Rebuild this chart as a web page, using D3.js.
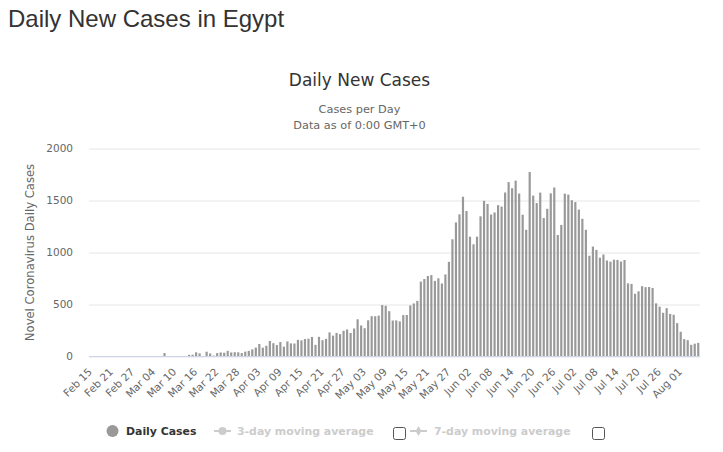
<!DOCTYPE html>
<html>
<head>
<meta charset="utf-8">
<script src="https://cdn.jsdelivr.net/npm/d3@7"></script>
<style>
  html, body { margin: 0; padding: 0; background: #fff; }
  svg { display: block; }
</style>
</head>
<body>
<svg id="chart" width="723" height="452"></svg>
<script>
// ---------- DATA ----------
const startDate = "2020-02-15";
const endDate = "2020-08-06";
const dailyCases = [
  0,0,0,0,0,0,0,0,0,0,0,0,0,0,0,
  1,0,0,0,0,1,33,4,4,0,5,3,3,16,17,40,30,0,46,29,9,33,39,36,54,39,41,40,33,47,54,
  69,86,120,85,103,149,128,110,139,95,145,126,125,160,155,168,171,188,112,189,
  157,169,232,201,227,215,248,260,226,269,358,298,272,348,388,387,393,495,488,436,
  346,347,338,
  398,399,491,510,535,720,745,774,783,727,752,702,789,910,1127,1289,1367,1536,1399,1152,
  1079,1152,1348,1497,1467,1365,1385,1455,1442,1577,1677,1618,1691,1567,1363,1218,1774,
  1547,1475,1576,1332,1420,1569,1625,1168,1265,1566,1557,1503,1485,1412,1324,1218,
  969,1057,1025,950,981,923,912,931,929,913,928,703,698,603,627,676,667,668,659,511,
  479,420,465,409,401,321,238,167,157,112,123,131
];
const yTicks = [0, 500, 1000, 1500, 2000];
const xTickLabels = ["Feb 15","Feb 21","Feb 27","Mar 04","Mar 10","Mar 16","Mar 22","Mar 28",
  "Apr 03","Apr 09","Apr 15","Apr 21","Apr 27","May 03","May 09","May 15","May 21","May 27",
  "Jun 02","Jun 08","Jun 14","Jun 20","Jun 26","Jul 02","Jul 08","Jul 14","Jul 20","Jul 26","Aug 01"];
const legendItems = ["Daily Cases", "3-day moving average", "7-day moving average"];

// ---------- BUILD ----------
const parse = d3.timeParse("%Y-%m-%d");
const fmt = d3.timeFormat("%b %d");
const days = d3.timeDay.range(parse(startDate), d3.timeDay.offset(parse(endDate), 1));
const categories = days.map(fmt);
const data = categories.map((c, i) => ({ cat: c, value: dailyCases[i] }));

const svg = d3.select("#chart");
const plot = { left: 89, right: 700, top: 148.5, bottom: 356.5 };

const x = d3.scaleBand().domain(categories).range([plot.left, plot.right]).paddingInner(0).paddingOuter(0);
const y = d3.scaleLinear().domain([0, 2000]).range([plot.bottom, plot.top]);

const FONT = "'DejaVu Sans', Verdana, sans-serif";

// Page title
svg.append("text")
  .attr("x", 8).attr("y", 27)
  .style("font-family", "'Liberation Sans', Arial, sans-serif")
  .style("font-size", "24px")
  .style("fill", "#333")
  .text("Daily New Cases in Egypt");

// Chart title & subtitle
svg.append("text")
  .attr("x", 359.5).attr("y", 86)
  .attr("text-anchor", "middle")
  .style("font-family", FONT).style("font-size", "17px").style("fill", "#333")
  .text("Daily New Cases");
svg.append("text")
  .attr("x", 359.5).attr("y", 113)
  .attr("text-anchor", "middle")
  .style("font-family", FONT).style("font-size", "11.3px").style("fill", "#666")
  .text("Cases per Day");
svg.append("text")
  .attr("x", 359.5).attr("y", 128.5)
  .attr("text-anchor", "middle")
  .style("font-family", FONT).style("font-size", "11.3px").style("fill", "#666")
  .text("Data as of 0:00 GMT+0");

// Grid lines
const yAxis = d3.axisLeft(y).tickValues(yTicks).tickFormat(d3.format("d"))
  .tickSize(-(plot.right - plot.left)).tickPadding(16);
const gy = svg.append("g").attr("transform", `translate(${plot.left},0)`).call(yAxis);
gy.select(".domain").remove();
gy.selectAll(".tick line").attr("stroke", "#e6e6e6").attr("stroke-width", 1);
gy.selectAll(".tick text")
  .style("font-family", FONT).style("font-size", "10.5px").style("fill", "#666")
  .attr("dy", "0.3em");

// Bars
const barW = x.bandwidth() * 0.62;
svg.append("g").selectAll("rect").data(data).join("rect")
  .attr("x", d => x(d.cat) + (x.bandwidth() - barW) / 2)
  .attr("width", barW)
  .attr("y", d => y(d.value))
  .attr("height", d => Math.max(0, y(0) - 0.5 - y(d.value)))
  .attr("fill", "#999");

// X axis
const xAxis = d3.axisBottom(x).tickValues(categories.filter(c => xTickLabels.includes(c))).tickSize(0).tickPadding(0);
const gx = svg.append("g").attr("transform", `translate(0,${plot.bottom})`).call(xAxis);
gx.select(".domain").attr("stroke", "#ccd6eb").attr("stroke-width", 1)
  .attr("d", `M${plot.left},0H${plot.right}`);
gx.selectAll(".tick text")
  .style("font-family", FONT).style("font-size", "10.5px").style("fill", "#666")
  .attr("text-anchor", "end")
  .attr("dy", null).attr("y", 0)
  .attr("transform", "translate(2,16) rotate(-45)");

// Y axis title
svg.append("text")
  .attr("transform", `translate(34,${(plot.top + plot.bottom) / 2}) rotate(-90)`)
  .attr("text-anchor", "middle")
  .style("font-family", FONT).style("font-size", "11.6px").style("fill", "#666")
  .text("Novel Coronavirus Daily Cases");

// Legend
const lg = svg.append("g");
const ly = 431;
const LFS = "10.9px";
lg.append("circle").attr("cx", 112.5).attr("cy", ly).attr("r", 6).attr("fill", "#999");
lg.append("text").attr("x", 126).attr("y", ly + 4)
  .style("font-family", FONT).style("font-size", LFS).style("font-weight", "bold").style("fill", "#333")
  .text(legendItems[0]);

lg.append("line").attr("x1", 214).attr("x2", 231).attr("y1", ly).attr("y2", ly).attr("stroke", "#ccc").attr("stroke-width", 2);
lg.append("circle").attr("cx", 222.5).attr("cy", ly).attr("r", 4).attr("fill", "#ccc");
lg.append("text").attr("x", 237).attr("y", ly + 4)
  .style("font-family", FONT).style("font-size", LFS).style("font-weight", "bold").style("fill", "#ccc")
  .text(legendItems[1]);
lg.append("rect").attr("x", 393.5).attr("y", 427.5).attr("width", 12).attr("height", 12).attr("rx", 2)
  .attr("fill", "#fff").attr("stroke", "#555");

lg.append("line").attr("x1", 410).attr("x2", 427).attr("y1", ly).attr("y2", ly).attr("stroke", "#ccc").attr("stroke-width", 2);
lg.append("path").attr("d", d3.symbol(d3.symbolDiamond, 30)()).attr("transform", `translate(418.5,${ly})`).attr("fill", "#ccc");
lg.append("text").attr("x", 434).attr("y", ly + 4)
  .style("font-family", FONT).style("font-size", LFS).style("font-weight", "bold").style("fill", "#ccc")
  .text(legendItems[2]);
lg.append("rect").attr("x", 592.5).attr("y", 427.5).attr("width", 12).attr("height", 12).attr("rx", 2)
  .attr("fill", "#fff").attr("stroke", "#555");
</script>
</body>
</html>
